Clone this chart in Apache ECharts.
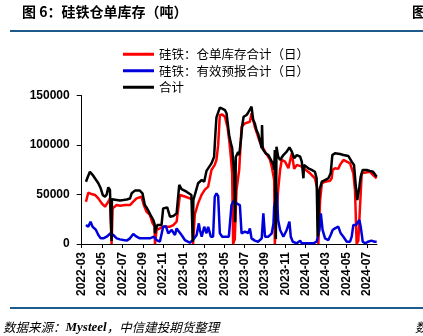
<!DOCTYPE html>
<html>
<head>
<meta charset="utf-8">
<script src="https://cdn.jsdelivr.net/npm/echarts@6/dist/echarts.min.js"></script>
<style>
html,body{margin:0;padding:0;background:#fff;}
#chart{width:423px;height:336px;}
</style>
</head>
<body>
<div id="chart"></div>
<script>
// ---- Data ----
const xTickLabels = ['2022-03','2022-05','2022-07','2022-09','2022-11','2023-01','2023-03','2023-05','2023-07','2023-09','2023-11','2024-01','2024-03','2024-05','2024-07'];
const yTicks = [0, 50000, 100000, 150000];
const seriesNames = ['硅铁：仓单库存合计（日）', '硅铁：有效预报合计（日）', '合计'];

const receipts = [
['2022-03-14',42800],['2022-03-21',51900],['2022-03-31',50500],['2022-04-10',49600],['2022-04-20',46200],
['2022-04-30',41100],['2022-05-10',37700],['2022-05-20',42800],['2022-05-25',46200],['2022-05-29',45000],
['2022-05-30',0],['2022-06-02',36000],['2022-06-14',39400],['2022-06-24',38600],['2022-07-09',39400],
['2022-07-24',39400],['2022-08-03',42800],['2022-08-13',46200],['2022-08-28',47800],['2022-09-04',39400],
['2022-09-12',32700],['2022-09-22',29300],['2022-09-30',20900],['2022-10-06',18000],['2022-10-07',0],
['2022-10-12',14200],['2022-10-22',15800],['2022-11-01',17500],['2022-11-21',17500],['2022-12-01',19200],
['2022-12-11',22600],['2022-12-21',49600],['2023-01-05',48000],['2023-01-20',46200],['2023-01-28',45000],
['2023-01-30',0],['2023-02-04',30000],['2023-02-13',41100],['2023-02-23',50000],['2023-03-04',55000],
['2023-03-14',58000],['2023-03-24',74900],['2023-04-03',80000],['2023-04-08',85000],['2023-04-13',100000],
['2023-04-18',130500],['2023-04-25',131000],['2023-05-03',128700],['2023-05-11',118000],['2023-05-16',105200],
['2023-05-21',88000],['2023-05-25',71500],['2023-05-28',0],['2023-06-02',5000],['2023-06-07',54600],
['2023-06-15',75000],['2023-06-22',118600],['2023-07-02',122000],['2023-07-17',123700],['2023-07-22',132200],
['2023-08-01',118600],['2023-08-16',103500],['2023-09-01',93400],['2023-09-16',85000],['2023-09-21',78000],
['2023-09-28',64700],['2023-09-30',0],['2023-10-04',0],['2023-10-10',54600],['2023-10-16',74900],
['2023-10-21',85000],['2023-10-31',83300],['2023-11-10',76600],['2023-11-20',91700],['2023-11-27',76000],
['2023-12-05',80000],['2023-12-20',78200],['2024-01-14',71500],['2024-01-29',66500],['2024-02-05',56300],
['2024-02-08',0],['2024-02-13',44500],['2024-02-18',61400],['2024-02-27',63000],['2024-03-13',64000],
['2024-03-18',66500],['2024-03-21',74900],['2024-03-28',76600],['2024-04-07',76000],['2024-04-12',80000],
['2024-04-22',85000],['2024-05-02',83300],['2024-05-12',81600],['2024-05-22',71500],['2024-05-27',54600],
['2024-06-01',0],['2024-06-06',3400],['2024-06-11',37700],['2024-06-16',71500],['2024-06-21',73100],
['2024-07-10',73100],['2024-07-20',69800],['2024-07-31',66500]
];

const forecasts = [
['2022-03-14',19200],['2022-03-21',17500],['2022-03-28',22600],['2022-04-03',17500],['2022-04-13',14200],
['2022-04-20',9100],['2022-04-27',5700],['2022-05-05',5700],['2022-05-15',7400],['2022-05-27',10800],
['2022-06-04',9100],['2022-06-14',5700],['2022-06-24',4700],['2022-07-04',4000],['2022-07-14',3400],
['2022-07-24',5700],['2022-08-03',10100],['2022-08-13',7400],['2022-08-23',5700],['2022-09-07',5700],
['2022-09-22',5700],['2022-10-04',7400],['2022-10-12',4000],['2022-10-22',2300],['2022-10-27',2300],
['2022-11-01',17500],['2022-11-09',18100],['2022-11-16',10800],['2022-11-26',14200],['2022-12-06',9100],
['2022-12-11',15800],['2022-12-16',17500],['2022-12-26',9100],['2023-01-05',4000],['2023-01-20',1300],
['2023-01-30',4000],['2023-02-09',9100],['2023-02-15',20900],['2023-02-18',14200],['2023-02-23',7400],
['2023-03-02',17500],['2023-03-09',10800],['2023-03-14',17500],['2023-03-22',7400],['2023-03-29',7400],
['2023-04-03',47800],['2023-04-08',51200],['2023-04-13',48700],['2023-04-18',10800],['2023-04-25',7400],
['2023-05-03',7400],['2023-05-08',6000],['2023-05-15',7400],['2023-05-23',39400],['2023-05-31',44500],
['2023-06-07',41100],['2023-06-17',39400],['2023-06-22',10800],['2023-07-02',12500],['2023-07-12',11000],
['2023-07-17',15800],['2023-07-22',5700],['2023-08-01',3400],['2023-08-11',2300],['2023-08-22',5700],
['2023-08-27',31000],['2023-09-01',7400],['2023-09-11',7400],['2023-09-21',10800],['2023-09-26',20900],
['2023-09-28',37700],['2023-09-30',41100],['2023-10-06',52900],['2023-10-10',24300],['2023-10-16',14200],
['2023-10-26',7400],['2023-11-05',14200],['2023-11-13',22600],['2023-11-17',7400],['2023-11-23',2300],
['2023-12-05',700],['2023-12-15',3400],['2023-12-20',700],['2024-01-04',700],['2024-01-24',700],
['2024-02-03',2300],['2024-02-11',14200],['2024-02-15',31000],['2024-02-20',14200],['2024-02-27',5700],
['2024-03-08',4000],['2024-03-15',9100],['2024-03-21',14200],['2024-03-28',15800],['2024-04-07',17500],
['2024-04-14',10800],['2024-04-22',7400],['2024-05-02',2300],['2024-05-12',2300],['2024-05-17',7400],
['2024-05-22',19200],['2024-05-30',19200],['2024-06-03',20900],['2024-06-09',24300],['2024-06-13',17500],
['2024-06-19',2300],['2024-06-26',700],['2024-07-05',2300],['2024-07-15',3400],['2024-07-25',2300],
['2024-07-31',2300]
];

const totals = [
['2022-03-14',63000],['2022-03-18',66500],['2022-03-26',73000],['2022-04-03',70000],['2022-04-10',66500],
['2022-04-20',61400],['2022-04-27',56300],['2022-05-03',49600],['2022-05-10',47800],['2022-05-15',50000],
['2022-05-20',57300],['2022-05-25',54600],['2022-05-29',53000],['2022-05-30',3000],['2022-05-31',45200],
['2022-06-14',44500],['2022-06-24',44000],['2022-07-04',44500],['2022-07-14',45000],['2022-07-24',46000],
['2022-07-29',51300],['2022-08-03',53000],['2022-08-08',54000],['2022-08-23',54000],['2022-08-31',51300],
['2022-09-07',39400],['2022-09-12',37000],['2022-09-17',36100],['2022-09-24',29300],['2022-10-02',24300],
['2022-10-06',20000],['2022-10-07',10800],['2022-10-14',19200],['2022-10-27',19200],['2022-11-01',36000],
['2022-11-13',37000],['2022-11-21',27600],['2022-12-01',28300],['2022-12-11',31000],['2022-12-19',59700],
['2022-12-26',55600],['2023-01-10',52900],['2023-01-25',49600],['2023-01-27',48000],['2023-01-29',2300],
['2023-01-31',44500],['2023-02-02',46000],['2023-02-13',61400],['2023-02-23',64700],['2023-03-02',63000],
['2023-03-09',74000],['2023-03-24',81500],['2023-04-01',88000],['2023-04-05',112000],['2023-04-08',128000],
['2023-04-18',138000],['2023-04-25',137000],['2023-05-03',135500],['2023-05-08',132000],['2023-05-13',118000],
['2023-05-16',110000],['2023-05-21',102000],['2023-05-25',97000],['2023-05-31',71500],['2023-06-03',22000],
['2023-06-05',88000],['2023-06-12',93000],['2023-06-15',90000],['2023-06-20',105000],['2023-06-24',120000],
['2023-06-28',128700],['2023-07-07',130500],['2023-07-12',133000],['2023-07-17',136000],['2023-07-22',139000],
['2023-07-27',125400],['2023-08-01',122000],['2023-08-06',115300],['2023-08-11',111600],['2023-08-16',105000],
['2023-08-22',97000],['2023-08-23',120400],['2023-08-25',96000],['2023-09-03',91700],['2023-09-11',90000],
['2023-09-16',88300],['2023-09-21',83300],['2023-09-26',80000],['2023-09-28',75000],['2023-09-30',95000],
['2023-10-03',5000],['2023-10-05',98400],['2023-10-10',88300],['2023-10-16',85000],['2023-10-26',90000],
['2023-11-05',93400],['2023-11-13',97800],['2023-11-20',93400],['2023-11-27',86700],['2023-12-05',90000],
['2023-12-15',88300],['2023-12-20',83300],['2023-12-23',82000],['2023-12-25',66500],['2023-12-27',80000],
['2024-01-09',76600],['2024-01-19',74900],['2024-01-29',73100],['2024-02-03',66500],['2024-02-06',7400],
['2024-02-11',54600],['2024-02-18',63000],['2024-02-27',64700],['2024-03-08',66500],['2024-03-15',71500],
['2024-03-20',90000],['2024-03-28',91700],['2024-04-12',91000],['2024-04-22',90000],['2024-05-07',89000],
['2024-05-17',83300],['2024-05-24',80000],['2024-05-30',56300],['2024-06-03',44500],['2024-06-09',57900],
['2024-06-13',68100],['2024-06-19',74900],['2024-07-01',74900],['2024-07-10',74000],['2024-07-20',73100],
['2024-07-31',68100]
];

// date string -> months since 2022-03-01 (x coordinate on the value axis)
function toMonthIndex(s) {
  const [y, m, d] = s.split('-').map(Number);
  const dim = new Date(y, m, 0).getDate();
  return (y - 2022) * 12 + (m - 3) + (d - 1) / dim;
}
const toXY = arr => arr.map(p => [toMonthIndex(p[0]), p[1]]);

const chart = echarts.init(document.getElementById('chart'), null, {renderer: 'canvas'});
const labelFont = 'Liberation Sans, Arial, sans-serif';
const cnFont = '"Noto Sans CJK SC", sans-serif';

chart.setOption({
  animation: false,
  backgroundColor: '#ffffff',
  grid: {left: 81.7, right: 46, top: 95.7, bottom: 92, containLabel: false},
  legend: {
    orient: 'vertical',
    left: 118, top: 41,
    itemWidth: 31, itemHeight: 3, itemGap: 0,
    icon: 'rect',
    textStyle: {fontFamily: cnFont, fontSize: 12.5, color: '#000', lineHeight: 16.5},
    data: seriesNames
  },
  xAxis: {
    type: 'value', min: 0, max: 29, interval: 2,
    axisLine: {show: true, lineStyle: {color: '#000', width: 1}},
    axisTick: {show: true, length: 4, lineStyle: {color: '#000'}},
    splitLine: {show: false},
    axisLabel: {
      rotate: 90, margin: 8, color: '#000', fontFamily: labelFont, fontSize: 12, fontWeight: 'bold',
      showMaxLabel: false,
      formatter: v => (v % 2 === 0 && xTickLabels[v / 2]) ? xTickLabels[v / 2] : ''
    }
  },
  yAxis: {
    type: 'value', min: yTicks[0], max: yTicks[yTicks.length - 1], interval: yTicks[1] - yTicks[0],
    axisLine: {show: true, lineStyle: {color: '#000', width: 1}},
    axisTick: {show: true, length: 5, lineStyle: {color: '#000'}},
    splitLine: {show: false},
    axisLabel: {margin: 12, color: '#000', fontFamily: labelFont, fontSize: 12, fontWeight: 'bold',
      formatter: v => String(v)}
  },
  series: [
    {name: seriesNames[0], type: 'line', data: toXY(receipts), showSymbol: false, color: '#FF0000', lineStyle: {width: 2.5, color: '#FF0000'}},
    {name: seriesNames[1], type: 'line', data: toXY(forecasts), showSymbol: false, color: '#0000DD', lineStyle: {width: 2.5, color: '#0000DD'}},
    {name: seriesNames[2], type: 'line', data: toXY(totals), showSymbol: false, color: '#000000', lineStyle: {width: 2.5, color: '#000000'}}
  ],
  graphic: [
    {type: 'text', left: 22, top: 5, style: {text: '图 6：硅铁仓单库存（吨）', fontFamily: cnFont, fontSize: 14, fontWeight: 'bold', fill: '#000'}},
    {type: 'text', left: 412, top: 5, style: {text: '图', fontFamily: cnFont, fontSize: 14, fontWeight: 'bold', fill: '#000'}},
    {type: 'rect', shape: {x: 10, y: 30, width: 413, height: 2}, style: {fill: '#1F5A8C'}},
    {type: 'rect', shape: {x: 10, y: 307, width: 413, height: 2}, style: {fill: '#1F5A8C'}},
    {type: 'text', left: 3, top: 321, style: {
      rich: {
        cn: {fontFamily: cnFont, fontSize: 12.5, fontStyle: 'italic', fill: '#000'},
        en: {fontFamily: 'Liberation Serif, serif', fontSize: 13, fontStyle: 'italic', fontWeight: 'bold', fill: '#000'}
      },
      text: '{cn|数据来源：}{en|Mysteel}{cn|，中信建投期货整理}'
    }},
    {type: 'text', left: 415, top: 321, style: {text: '数', fontFamily: cnFont, fontSize: 12.5, fontStyle: 'italic', fill: '#000'}}
  ]
});
</script>
</body>
</html>
